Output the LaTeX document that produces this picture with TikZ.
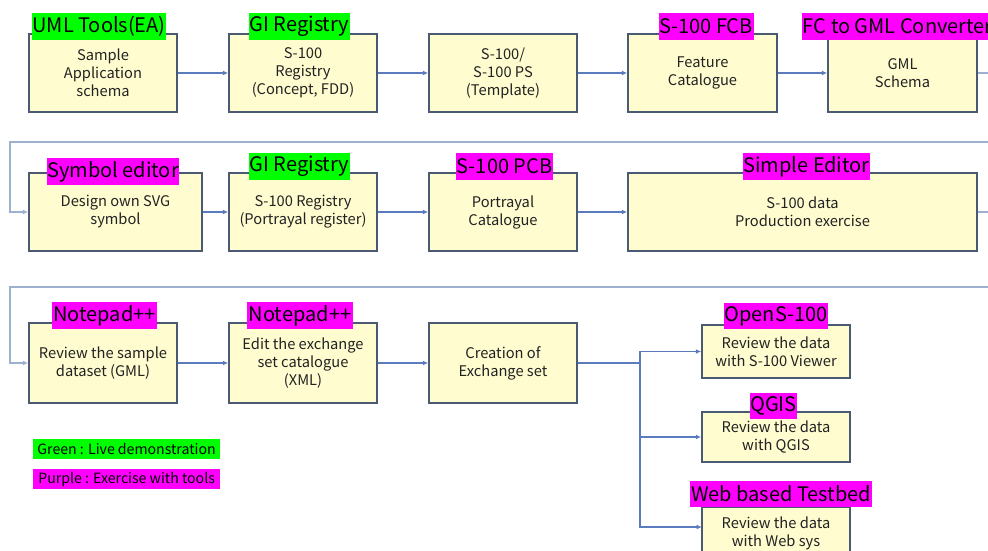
\documentclass[tikz,border=0pt]{standalone}
\usepackage{fontspec}
\setmainfont{Noto Sans CJK KR}
\usetikzlibrary{arrows.meta}
\definecolor{boxfill}{HTML}{FFFCD0}
\definecolor{boxline}{HTML}{4A5A72}
\definecolor{arr}{HTML}{5A7CBE}
\definecolor{wrapc}{HTML}{9DB0CF}
\definecolor{lgreen}{HTML}{00FF00}
\definecolor{lmag}{HTML}{FF00FF}
\definecolor{txt}{HTML}{222222}
\tikzset{
  box/.style 2 args={draw=boxline, line width=1.1pt, fill=boxfill, inner sep=0pt,
    minimum width=#1*0.75pt, minimum height=#2*0.75pt, align=center,
    text=txt, font=\fontsize{11}{13.5}\selectfont},
  tag/.style={inner xsep=0.5pt, inner ysep=0pt, minimum height=20pt,
    font=\fontsize{15}{17}\selectfont, text=black},
  greentag/.style={tag, fill=lgreen},
  magtag/.style={tag, fill=lmag},
  flow/.style={draw=arr, line width=0.8pt, -{Latex[length=4pt,width=3.5pt]}},
  wrap/.style={draw=wrapc, line width=0.9pt, -{Latex[length=4pt,width=3.5pt]}},
  legend/.style={inner xsep=0pt, inner ysep=0pt, minimum height=15pt,
    minimum width=140pt, font=\fontsize{10.6}{12}\selectfont, text=black},
}
\begin{document}
\begin{tikzpicture}[x=0.75pt, y=-0.75pt]
\useasboundingbox (0,0) rectangle (988,550);
\clip (0,0) rectangle (988,550);
\fill[white] (0,0) rectangle (988,550);

% Row 1
\node[box={148}{78}] (b11) at (103,73) {Sample\\Application\\schema};
\node[box={148}{78}] (b12) at (303,73) {S-100\\Registry\\(Concept, FDD)};
\node[box={148}{78}] (b13) at (503,73) {S-100/\\S-100 PS\\(Template)};
\node[box={149}{78}] (b14) at (702.5,73) {Feature\\Catalogue};
\node[box={149}{78}] (b15) at (902.5,73) {GML\\Schema};

% Row 2
\node[box={173}{78}] (b21) at (115.5,212) {Design own SVG\\symbol};
\node[box={148}{78}] (b22) at (303,212) {S-100 Registry\\(Portrayal register)};
\node[box={148}{78}] (b23) at (503,212) {Portrayal\\Catalogue};
\node[box={349}{78}] (b24) at (802.5,212) {S-100 data\\Production exercise};

% Row 3
\node[box={148}{80}] (b31) at (103,363) {Review the sample\\dataset (GML)};
\node[box={148}{80}] (b32) at (303,363) {Edit the exchange\\set catalogue\\(XML)};
\node[box={148}{80}] (b33) at (503,363) {Creation of\\Exchange set};

% Right column
\node[box={148}{53}] (b41) at (776,351.5) {Review the data\\with S-100 Viewer};
\node[box={148}{50}] (b42) at (776,437) {Review the data\\with QGIS};
\node[box={148}{53}, text depth=0pt] (b43) at (776,533.5) {\raisebox{10pt}{\parbox{110pt}{\centering Review the data\\with Web sys}}};

% Flow arrows
\draw[flow] (b11) -- (b12);
\draw[flow] (b12) -- (b13);
\draw[flow] (b13) -- (b14);
\draw[flow] (b14) -- (b15);
\draw[flow] (b21) -- (b22);
\draw[flow] (b22) -- (b23);
\draw[flow] (b23) -- (b24);
\draw[flow] (b31) -- (b32);
\draw[flow] (b32) -- (b33);

% Wraps between rows
\coordinate (r1) at (1000,142);
\coordinate (l1) at (10,142);
\coordinate (r2) at (1000,287);
\coordinate (l2) at (10,287);
\draw[wrap] (b15.east) -| (r1) -- (l1) |- (b21.west);
\draw[wrap] (b24.east) -| (r2) -- (l2) |- (b31.west);

% Branch
\coordinate (br) at (640,363);
\coordinate (b43w) at (702,527);
\draw[draw=arr, line width=0.8pt] (b33.east) -- (br);
\draw[flow] (br) |- (b41.west);
\draw[flow] (br) |- (b42.west);
\draw[flow] (br) |- (b43w);

% Tags
\node[greentag, minimum width=96pt] (t11) at (99,26.5) {UML Tools(EA)};
\node[greentag, minimum width=73pt] (t12) at (299.5,26.5) {GI Registry};
\node[magtag, minimum width=69pt] (t14) at (706,26.5) {S-100 FCB};
\node[magtag, anchor=west] (t15) at (802,26.5) {FC to GML Converter};
\node[magtag, minimum width=93pt] (t21) at (113,171.5) {Symbol editor};
\node[greentag, minimum width=73pt] (t22) at (299.5,166.5) {GI Registry};
\node[magtag, minimum width=70pt] (t23) at (504.5,166.5) {S-100 PCB};
\node[magtag, minimum width=89pt] (t24) at (806.5,166.5) {Simple Editor};
\node[magtag, minimum width=79pt] (t31) at (104.5,315.5) {Notepad++};
\node[magtag, minimum width=79pt] (t32) at (300,315.5) {Notepad++};
\node[magtag, minimum width=75pt] (t41) at (776,316) {OpenS-100};
\node[magtag, minimum width=32pt] (t42) at (773.5,406) {QGIS};
\node[magtag, minimum width=130pt] (t43) at (781,494) {Web based Testbed};

% Legend
\node[legend, fill=lgreen, anchor=west] (lg1) at (33,449) {Green : Live demonstration};
\node[legend, fill=lmag, anchor=west] (lg2) at (33,479) {Purple : Exercise with tools};
\end{tikzpicture}
\end{document}
